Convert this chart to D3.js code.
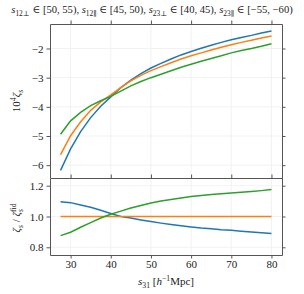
<!DOCTYPE html>
<html><head><meta charset="utf-8">
<script src="https://cdn.jsdelivr.net/npm/d3@7/dist/d3.min.js"></script>
<style>body{margin:0;background:#fff}svg{display:block}</style>
</head><body><div id="c"></div>
<script>
const s31 = [27.5,30,32.5,35,37.5,40,42.5,45,47.5,50,52.5,55,57.5,60,62.5,65,67.5,70,72.5,75,77.5,80];
const zetaBlue   = [-6.18,-5.44,-4.85,-4.37,-3.98,-3.66,-3.34,-3.08,-2.86,-2.67,-2.51,-2.36,-2.22,-2.10,-1.99,-1.89,-1.79,-1.70,-1.62,-1.55,-1.47,-1.40];
const zetaOrange = [-5.64,-4.99,-4.51,-4.12,-3.83,-3.59,-3.34,-3.11,-2.92,-2.76,-2.62,-2.49,-2.36,-2.25,-2.15,-2.05,-1.96,-1.87,-1.79,-1.72,-1.64,-1.57];
const zetaGreen  = [-4.94,-4.48,-4.19,-3.96,-3.79,-3.64,-3.46,-3.28,-3.13,-3.00,-2.88,-2.76,-2.64,-2.54,-2.44,-2.34,-2.25,-2.15,-2.07,-2.00,-1.92,-1.84];
const ratioBlue   = [1.095,1.09,1.075,1.06,1.04,1.02,1.0,0.99,0.978,0.967,0.957,0.948,0.94,0.932,0.925,0.92,0.914,0.91,0.905,0.90,0.895,0.89];
const ratioOrange = [1,1,1,1,1,1,1,1,1,1,1,1,1,1,1,1,1,1,1,1,1,1];
const ratioGreen  = [0.876,0.898,0.93,0.96,0.99,1.015,1.035,1.055,1.072,1.087,1.10,1.11,1.12,1.13,1.137,1.143,1.148,1.152,1.157,1.162,1.168,1.175];
const xTicks = [30,40,50,60,70,80];
const yTicksTop = [-6,-5,-4,-3,-2];
const yTicksBot = [0.8,1.0,1.2];
const colors = ["#1f77b4","#ff7f0e","#2ca02c"];

const W=304,H=294;
const L=50,R=282,T1=24,B1=178,T2=178,B2=255;
const FONT="'Liberation Serif','DejaVu Serif',serif";
const spine="#555", grid="#efefef";

const svg=d3.select("#c").append("svg").attr("width",W).attr("height",H);
const x=d3.scaleLinear().domain([24.875,82.625]).range([L,R]);
const yT=d3.scaleLinear().domain([-6.44,-1.16]).range([B1,T1]);
const yB=d3.scaleLinear().domain([0.75,1.25]).range([B2,T2]);

function math(sel, parts, size){
  let off=0;
  parts.forEach(([t,k,dx])=>{
    const ts=sel.append("tspan").text(t);
    let target=0;
    if(k==="i"){ts.attr("font-style","italic");}
    if(k==="sub"||k==="isub"){target=size*0.3; ts.attr("font-size",size*0.7);}
    if(k==="sup"){target=-size*0.4; ts.attr("font-size",size*0.7);}
    if(k==="isub") ts.attr("font-style","italic");
    if(dx) ts.attr("dx",dx);
    if(target!==off){ts.attr("dy",target-off); off=target;}
  });
}

function panel(y, top, bottom, yTicks, fmt, series, showX){
  const g=svg.append("g");
  g.append("rect").attr("x",L).attr("y",top).attr("width",R-L).attr("height",bottom-top).attr("fill","#fff");
  g.selectAll(".gx").data(xTicks).join("line").attr("x1",d=>x(d)).attr("x2",d=>x(d)).attr("y1",top).attr("y2",bottom).attr("stroke",grid).attr("stroke-width",0.8);
  g.selectAll(".gy").data(yTicks).join("line").attr("y1",d=>y(d)).attr("y2",d=>y(d)).attr("x1",L).attr("x2",R).attr("stroke",grid).attr("stroke-width",0.8);
  const line=d3.line().x((d,i)=>x(s31[i])).y(d=>y(d));
  series.forEach((s,i)=>{
    g.append("path").datum(s).attr("d",line).attr("fill","none").attr("stroke",colors[i]).attr("stroke-width",1.5);
  });
  const ax=(a)=>a.call(s=>{s.select(".domain").attr("stroke",spine);s.selectAll(".tick line").attr("stroke",spine);s.selectAll("text").attr("font-family",FONT).attr("font-size",11).attr("fill","#222");});
  g.append("g").attr("transform",`translate(${L},0)`).call(d3.axisLeft(y).tickValues(yTicks).tickFormat(fmt).tickSize(3.5).tickSizeOuter(0).tickPadding(3)).call(ax);
  g.append("g").attr("transform",`translate(${R},0)`).call(d3.axisRight(y).tickValues(yTicks).tickFormat("").tickSize(3.5).tickSizeOuter(0)).call(ax);
  g.append("g").attr("transform",`translate(0,${top})`).call(d3.axisTop(x).tickValues(xTicks).tickFormat("").tickSize(3.5).tickSizeOuter(0)).call(ax);
  g.append("g").attr("transform",`translate(0,${bottom})`).call(d3.axisBottom(x).tickValues(xTicks).tickFormat(showX?d3.format("d"):"").tickSize(3.5).tickSizeOuter(0).tickPadding(2)).call(ax);
  return g;
}

panel(yT,T1,B1,yTicksTop,d=>d3.format("d")(d).replace("-","\u2212"),[zetaBlue,zetaOrange,zetaGreen],false);
panel(yB,T2,B2,yTicksBot,d3.format(".1f"),[ratioBlue,ratioOrange,ratioGreen],true);

const tt=svg.append("text").attr("x",152).attr("y",13).attr("text-anchor","middle").attr("font-family",FONT).attr("font-size",10.6).attr("fill","#222");
math(tt,[["s","i"],["12\u22A5","sub"],[" \u2208 [50, 55), ","n"],["s","i"],["12\u2225","sub"],[" \u2208 [45, 50), ","n"],["s","i"],["23\u22A5","sub"],[" \u2208 [40, 45), ","n"],["s","i"],["23\u2225","sub"],[" \u2208 [\u221255, \u221260)","n"]],10.6);

const yl1=svg.append("text").attr("transform","translate(20,101) rotate(-90)").attr("text-anchor","middle").attr("font-family",FONT).attr("font-size",11).attr("fill","#222");
math(yl1,[["10","n"],["4","sup"],["\u03B6","i"],["s","isub"]],11);
const yl2=svg.append("text").attr("transform","translate(20,218) rotate(-90)").attr("text-anchor","middle").attr("font-family",FONT).attr("font-size",11).attr("fill","#222");
math(yl2,[["\u03B6","i"],["s","isub"],[" / ","n"],["\u03B6","i"],["s","isub"],["fid","sup",-3]],11);
const xl=svg.append("text").attr("x",166).attr("y",285).attr("text-anchor","middle").attr("font-family",FONT).attr("font-size",11).attr("fill","#222");
math(xl,[["s","i"],["31","sub"],["  [","n"],["h","i"],["\u22121","sup"],["Mpc]","n"]],11);
</script></body></html>
